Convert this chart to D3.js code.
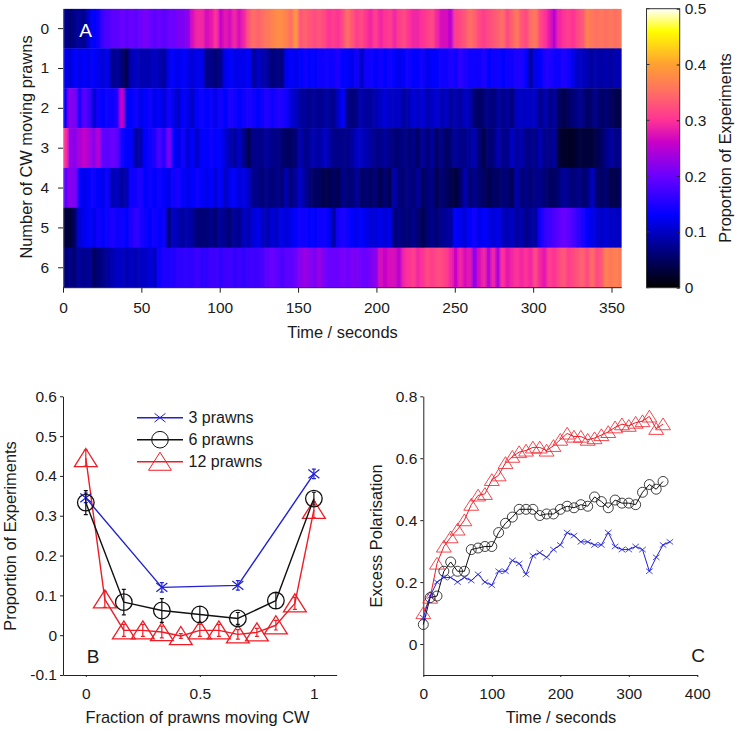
<!DOCTYPE html>
<html><head><meta charset="utf-8">
<script src="https://cdn.jsdelivr.net/npm/d3@7"></script>
<style>
html,body{margin:0;padding:0;background:#fff}
svg{display:block}
text{font-family:"Liberation Sans",Arial,sans-serif;fill:#1a1a1a}
.tick text{font-size:15.5px}
.t{font-size:16.4px}
</style></head><body>
<svg id="c" width="739" height="731"></svg>
<script>
const binSeconds = 3;
const rowLabels = [0,1,2,3,4,5,6];
const row0 = [.07,.06,.07,.08,.07,.11,.13,.14,.17,.18,
.19,.19,.2,.19,.2,.19,.2,.21,.2,.19,
.2,.19,.2,.2,.21,.21,.22,.27,.29,.29,
.27,.28,.3,.26,.28,.27,.29,.27,.29,.33,
.35,.34,.35,.36,.37,.38,.38,.37,.35,.39,
.33,.34,.33,.32,.33,.32,.3,.31,.3,.32,
.35,.33,.31,.32,.3,.29,.31,.29,.3,.31,
.29,.31,.32,.3,.29,.29,.3,.31,.32,.29,
.27,.27,.25,.31,.32,.33,.35,.34,.32,.31,
.32,.33,.34,.35,.32,.34,.36,.33,.32,.35,
.36,.32,.3,.28,.25,.29,.3,.31,.3,.32,
.33,.37,.36,.35,.36,.35,.36,.35,.36];
const row1 = [.12,.11,.13,.12,.13,.12,.13,.12,.11,.12,
.07,.08,.06,.04,.09,.1,.09,.09,.09,.1,
.09,.08,.12,.13,.12,.13,.12,.11,.12,.12,
.07,.07,.06,.07,.12,.13,.12,.12,.12,.13,
.08,.1,.09,.08,.06,.07,.06,.12,.13,.12,
.13,.14,.13,.13,.14,.14,.14,.14,.15,.13,
.13,.12,.14,.1,.14,.14,.13,.14,.13,.14,
.13,.12,.13,.14,.13,.13,.14,.12,.13,.13,
.14,.14,.15,.14,.16,.15,.14,.14,.14,.15,
.13,.14,.14,.13,.14,.14,.15,.15,.13,.08,
.12,.13,.15,.15,.14,.14,.15,.14,.12,.1,
.1,.09,.08,.09,.08,.09,.08,.09,.09];
const row2 = [.13,.22,.21,.14,.19,.17,.11,.14,.13,.14,
.14,.15,.26,.12,.13,.14,.12,.13,.14,.12,
.13,.11,.14,.12,.1,.13,.12,.1,.13,.14,
.13,.14,.12,.14,.13,.15,.14,.13,.14,.15,
.14,.13,.14,.15,.14,.15,.15,.14,.11,.1,
.08,.08,.07,.08,.07,.08,.08,.07,.1,.13,
.07,.06,.07,.09,.08,.08,.09,.1,.11,.1,
.1,.1,.08,.09,.11,.1,.11,.09,.1,.11,
.09,.1,.08,.09,.08,.1,.09,.06,.05,.06,
.07,.06,.08,.07,.08,.06,.1,.1,.1,.1,
.1,.07,.09,.07,.08,.05,.04,.05,.06,.07,
.07,.05,.06,.07,.05,.06,.05,.04,.04];
const row3 = [.3,.23,.22,.24,.26,.24,.22,.25,.19,.19,
.2,.19,.14,.13,.13,.08,.09,.13,.14,.15,
.18,.15,.21,.13,.12,.14,.11,.13,.1,.13,
.13,.14,.13,.13,.11,.09,.08,.1,.07,.04,
.07,.07,.07,.08,.07,.07,.06,.05,.05,.06,
.09,.07,.08,.09,.08,.1,.09,.07,.07,.07,
.07,.08,.1,.1,.09,.08,.07,.07,.08,.07,
.06,.06,.07,.06,.07,.05,.08,.06,.08,.05,
.07,.05,.06,.08,.07,.07,.08,.09,.06,.04,
.06,.06,.09,.07,.07,.1,.08,.09,.07,.07,
.07,.09,.07,.07,.08,.03,.02,.02,.02,.03,
.03,.03,.03,.04,.05,.07,.08,.07,.07];
const row4 = [.19,.22,.21,.13,.12,.13,.14,.13,.12,.14,
.09,.1,.08,.09,.14,.14,.15,.13,.14,.13,
.14,.13,.12,.14,.15,.13,.12,.13,.14,.13,
.12,.13,.11,.13,.1,.12,.13,.11,.12,.1,
.07,.07,.06,.07,.06,.07,.06,.09,.06,.08,
.1,.08,.06,.05,.05,.04,.04,.05,.04,.07,
.06,.06,.08,.05,.06,.05,.06,.04,.06,.04,
.09,.06,.06,.07,.06,.08,.05,.06,.07,.04,
.06,.05,.04,.03,.05,.09,.06,.07,.06,.05,
.04,.05,.05,.06,.06,.04,.09,.06,.07,.06,
.07,.07,.06,.05,.05,.06,.08,.07,.06,.07,
.06,.06,.1,.06,.05,.06,.04,.04,.05];
const row5 = [.03,.03,.05,.11,.12,.13,.12,.14,.13,.14,
.15,.14,.14,.13,.15,.16,.15,.14,.13,.14,
.13,.14,.06,.1,.09,.08,.09,.08,.06,.06,
.06,.07,.06,.08,.07,.06,.08,.07,.1,.09,
.11,.12,.1,.09,.11,.1,.12,.11,.12,.13,
.14,.14,.13,.13,.14,.14,.13,.08,.14,.15,
.14,.13,.12,.13,.12,.11,.11,.12,.11,.12,
.06,.07,.06,.06,.07,.06,.04,.06,.07,.06,
.07,.08,.08,.13,.12,.11,.13,.14,.12,.13,
.12,.11,.12,.1,.09,.1,.08,.09,.07,.08,
.08,.14,.16,.17,.18,.19,.2,.19,.18,.16,
.15,.13,.12,.11,.1,.11,.1,.1,.1];
const row6 = [.06,.07,.06,.08,.07,.08,.05,.06,.07,.08,
.09,.1,.1,.09,.1,.09,.1,.1,.11,.1,
.14,.15,.15,.15,.16,.16,.16,.16,.17,.16,
.16,.17,.17,.16,.17,.17,.16,.17,.16,.17,
.17,.17,.18,.19,.2,.19,.18,.19,.19,.2,
.22,.23,.22,.21,.23,.21,.2,.2,.2,.21,
.2,.21,.21,.2,.2,.21,.22,.27,.26,.27,
.27,.25,.29,.3,.31,.29,.3,.32,.31,.32,
.32,.31,.29,.26,.29,.27,.28,.22,.27,.29,
.25,.29,.24,.3,.28,.29,.3,.29,.3,.29,
.32,.29,.28,.31,.3,.32,.33,.31,.32,.33,
.34,.32,.35,.32,.33,.37,.36,.37,.36];
const heatRows = [row0,row1,row2,row3,row4,row5,row6];
const colorStopValues = [0,.13,.2,.26,.3,.35,.4,.46,.5];
const colorStopColors = ["#000000","#0000ff","#6a00ff","#c800c8","#ff3296","#ff6e64","#ffa032","#ffff00","#ffffff"];
const timeTicksA = [0,50,100,150,200,250,300,350];
const colorTicks = [0,.1,.2,.3,.4,.5];

const frac3 = [0,1/3,2/3,1];
const prop3 = [.345,.12,.125,.405];
const err3 = [.012,.012,.012,.012];
const frac6 = [0,1/6,2/6,3/6,4/6,5/6,1];
const prop6 = [.333,.083,.062,.052,.042,.087,.343];
const err6 = [.03,.032,.03,.02,.015,.02,.016];
const frac12 = [0,1/12,2/12,3/12,4/12,5/12,6/12,7/12,8/12,9/12,10/12,11/12,1];
const prop12 = [.445,.09,.012,.012,.008,-.002,.012,.012,.002,.007,.025,.08,.315];
const err12 = [.02,.02,.015,.015,.015,.006,.015,.015,.012,.01,.012,.015,.02];
const fracTicks = [0,.5,1];
const propTicks = [-.1,0,.1,.2,.3,.4,.5,.6];
const seriesNames = ["3 prawns","6 prawns","12 prawns"];
const seriesColors = ["#2020d8","#111111","#ee1c25"];

const polBlack = [.063,.15,.155,.235,.265,.235,.235,.305,.31,.315,.315,.36,.39,.41,.435,.435,.435,.415,.42,.42,.435,.445,.44,.45,.445,.475,.46,.44,.465,.455,.455,.45,.49,.515,.5,.525];
const polRed = [.1,.15,.26,.315,.345,.37,.4,.45,.48,.485,.53,.545,.585,.605,.62,.625,.635,.635,.625,.64,.66,.68,.67,.67,.66,.665,.675,.685,.7,.71,.705,.715,.72,.735,.695,.71];
const polBlue = [.085,.155,.2,.215,.215,.2,.215,.205,.225,.2,.19,.235,.235,.27,.26,.225,.285,.295,.28,.305,.32,.36,.35,.33,.33,.32,.32,.36,.315,.305,.305,.315,.305,.235,.28,.32,.33];
const polStep = 10;
const timeTicksC = [0,100,200,300,400];
const polTicks = [0,.2,.4,.6,.8];

const svg = d3.select("#c");
const fmt = d => d===0?"0":String(d);
const color = d3.scaleLinear().domain(colorStopValues).range(colorStopColors).clamp(true);

function styleAxis(g,tickColor){
  g.selectAll("path.domain").attr("stroke",tickColor||"#222").attr("stroke-width",1);
  g.selectAll(".tick line").attr("stroke",tickColor||"#222").attr("stroke-width",1);
  g.selectAll("text").style("fill","#1a1a1a");
}

/* Panel A */
const ax = d3.scaleLinear().domain([0,356.5]).range([63,621.7]);
const ay = d3.scaleBand().domain(rowLabels).range([8.7,287.7]);
const defs = svg.append("defs");
defs.append("filter").attr("id","soft").attr("filterUnits","userSpaceOnUse")
  .attr("x",50).attr("y",0).attr("width",590).attr("height",300)
  .append("feGaussianBlur").attr("stdDeviation","0.8 0");
defs.append("clipPath").attr("id","aclip").append("rect")
  .attr("x",ax(0)).attr("y",ay.range()[0]).attr("width",ax(356.5)-ax(0)).attr("height",ay.range()[1]-ay.range()[0]);
const heatClip = svg.append("g").attr("clip-path","url(#aclip)").append("g").attr("filter","url(#soft)");
heatRows.forEach((vals,r)=>{
  heatClip.append("g").selectAll("rect").data(vals).join("rect")
    .attr("x",(d,i)=>ax(i*binSeconds))
    .attr("y",ay(rowLabels[r])-.2)
    .attr("width",(d,i)=>ax((i+1)*binSeconds)-ax(i*binSeconds)+.6)
    .attr("height",ay.bandwidth()+.4)
    .attr("fill",d=>color(d));
});
svg.append("g").attr("transform","translate(0,287.7)")
  .call(d3.axisBottom(ax).tickValues(timeTicksA).tickFormat(fmt).tickSize(5).tickPadding(9))
  .call(styleAxis).select("path.domain").remove();
svg.append("g").attr("transform","translate(63,0)")
  .call(d3.axisLeft(ay).tickSize(5).tickPadding(9))
  .call(styleAxis).select("path.domain").remove();
svg.append("line").attr("x1",ax(0)).attr("x2",ax(356.5)).attr("y1",287.7).attr("y2",287.7).attr("stroke","#222");
svg.append("text").attr("class","t").attr("x",342.5).attr("y",338).attr("text-anchor","middle").text("Time / seconds");
svg.append("text").attr("class","t").attr("transform","translate(32,147) rotate(-90)").attr("text-anchor","middle").text("Number of CW moving prawns");
svg.append("text").attr("x",85.5).attr("y",37).attr("text-anchor","middle").style("font-size","19px").style("fill","#fff").text("A");

/* Colorbar */
const cy = d3.scaleLinear().domain([0,.5]).range([287.7,8.7]);
const grad = defs.append("linearGradient").attr("id","cbar").attr("x1",0).attr("x2",0).attr("y1",1).attr("y2",0);
colorStopValues.forEach((v,i)=>grad.append("stop").attr("offset",v/.5).attr("stop-color",colorStopColors[i]));
svg.append("rect").attr("x",646.5).attr("y",cy(.5)).attr("width",33.2).attr("height",cy(0)-cy(.5))
  .attr("fill","url(#cbar)").attr("stroke","#333").attr("stroke-width",1);
const cbAxis = svg.append("g").attr("transform","translate(679.7,0)")
  .call(d3.axisRight(cy).tickValues(colorTicks).tickFormat(fmt).tickSize(-3).tickPadding(6));
cbAxis.call(styleAxis).select("path.domain").remove();
cbAxis.selectAll(".tick text").attr("x",5);
svg.append("g").selectAll("line").data(colorTicks).join("line")
  .attr("x1",646.5).attr("x2",649.5).attr("y1",d=>cy(d)).attr("y2",d=>cy(d)).attr("stroke","#333");
svg.append("text").attr("class","t").attr("transform","translate(731,148) rotate(-90)").attr("text-anchor","middle").text("Proportion of Experiments");

/* markers */
function marker(g,kind,x,y,s,col,sw){
  if(kind==="x"){
    g.append("path").attr("d",`M${x-s},${y-s*.8}L${x+s},${y+s*.8}M${x-s},${y+s*.8}L${x+s},${y-s*.8}`)
      .attr("stroke",col).attr("stroke-width",sw).attr("fill","none");
  } else if(kind==="o"){
    g.append("circle").attr("cx",x).attr("cy",y).attr("r",s).attr("fill","none").attr("stroke",col).attr("stroke-width",sw);
  } else {
    g.append("path").attr("d",`M${x},${y-s}L${x+s*1.2},${y+s*.9}L${x-s*1.2},${y+s*.9}Z`)
      .attr("fill","none").attr("stroke",col).attr("stroke-width",sw);
  }
}
function series(g,xs,ys,sx,sy,col,lw){
  const line = d3.line().x((d,i)=>sx(xs[i])).y(d=>sy(d));
  g.append("path").datum(ys).attr("d",line).attr("fill","none").attr("stroke",col).attr("stroke-width",lw).attr("stroke-linejoin","round");
}

/* Panel B */
const bx = d3.scaleLinear().domain([-.1,1.1]).range([63,336.7]);
const by = d3.scaleLinear().domain([-.1,.6]).range([675,396.3]);
const bAxX = svg.append("g").attr("transform","translate(0,675)")
  .call(d3.axisBottom(bx).tickValues(fracTicks).tickFormat(fmt).tickSize(2).tickPadding(11).tickSizeOuter(0));
bAxX.call(styleAxis);
const bAxY = svg.append("g").attr("transform","translate(63,0)")
  .call(d3.axisLeft(by).tickValues(propTicks).tickFormat(d=>fmt(+d.toFixed(1))).tickSize(3).tickPadding(3).tickSizeOuter(0));
bAxY.call(styleAxis);
const bg = svg.append("g");
const bSeries = [
  {x:frac12,y:prop12,e:err12,k:"t",c:seriesColors[2],s:9.5},
  {x:frac6,y:prop6,e:err6,k:"o",c:seriesColors[1],s:8.3},
  {x:frac3,y:prop3,e:err3,k:"x",c:seriesColors[0],s:5.5}
];
[bSeries[0],bSeries[2],bSeries[1]].forEach(S=>{
  series(bg,S.x,S.y,bx,by,S.c,1.4);
  S.y.forEach((v,i)=>{
    const X=bx(S.x[i]);
    bg.append("path").attr("d",`M${X},${by(v-S.e[i])}V${by(v+S.e[i])}M${X-2},${by(v-S.e[i])}H${X+2}M${X-2},${by(v+S.e[i])}H${X+2}`)
      .attr("stroke",S.c).attr("stroke-width",1.2).attr("fill","none");
    marker(bg,S.k,X,by(v),S.s,S.c,S.k==="x"?1.2:1.3);
  });
});
const legY = d3.scalePoint().domain(seriesNames).range([417.7,461.7]);
const legKinds = ["x","o","t"], legSizes=[5.5,8.3,9.5];
seriesNames.forEach((n,i)=>{
  const Y=legY(n);
  svg.append("line").attr("x1",137).attr("x2",183).attr("y1",Y).attr("y2",Y).attr("stroke",seriesColors[i]).attr("stroke-width",1.4);
  marker(svg,legKinds[i],160,Y,legSizes[i],seriesColors[i],1);
  svg.append("text").attr("x",188.5).attr("y",Y+5.5).style("font-size","16px").text(n);
});
svg.append("text").attr("class","t").attr("x",197.5).attr("y",723).attr("text-anchor","middle").text("Fraction of prawns moving CW");
svg.append("text").attr("class","t").attr("transform","translate(16,536) rotate(-90)").attr("text-anchor","middle").text("Proportion of Experiments");
svg.append("text").attr("x",93).attr("y",663).attr("text-anchor","middle").style("font-size","19px").text("B");

/* Panel C */
const px = d3.scaleLinear().domain([0,400]).range([423.3,697.3]);
const py = d3.scaleLinear().domain([-.1,.8]).range([675,396.3]);
const cAxX = svg.append("g").attr("transform","translate(0,675)")
  .call(d3.axisBottom(px).tickValues(timeTicksC).tickFormat(fmt).tickSize(2).tickPadding(11).tickSizeOuter(0));
cAxX.call(styleAxis);
const cAxY = svg.append("g").attr("transform","translate(423.3,0)")
  .call(d3.axisLeft(py).tickValues(polTicks).tickFormat(fmt).tickSize(3).tickPadding(3).tickSizeOuter(0));
cAxY.call(styleAxis);
const cg = svg.append("g");
[[polRed,"t",seriesColors[2],6.2],[polBlack,"o",seriesColors[1],5],[polBlue,"x",seriesColors[0],3.3]].forEach(([ys,k,c,s])=>{
  const xs = ys.map((d,i)=>i*polStep);
  series(cg,xs,ys,px,py,c,1);
  ys.forEach((v,i)=>marker(cg,k,px(xs[i]),py(v),s,c,.8));
});
svg.append("text").attr("class","t").attr("x",561).attr("y",723).attr("text-anchor","middle").text("Time / seconds");
svg.append("text").attr("class","t").attr("transform","translate(382,536) rotate(-90)").attr("text-anchor","middle").text("Excess Polarisation");
svg.append("text").attr("x",698).attr("y",662).attr("text-anchor","middle").style("font-size","19px").text("C");
</script>
</body></html>
